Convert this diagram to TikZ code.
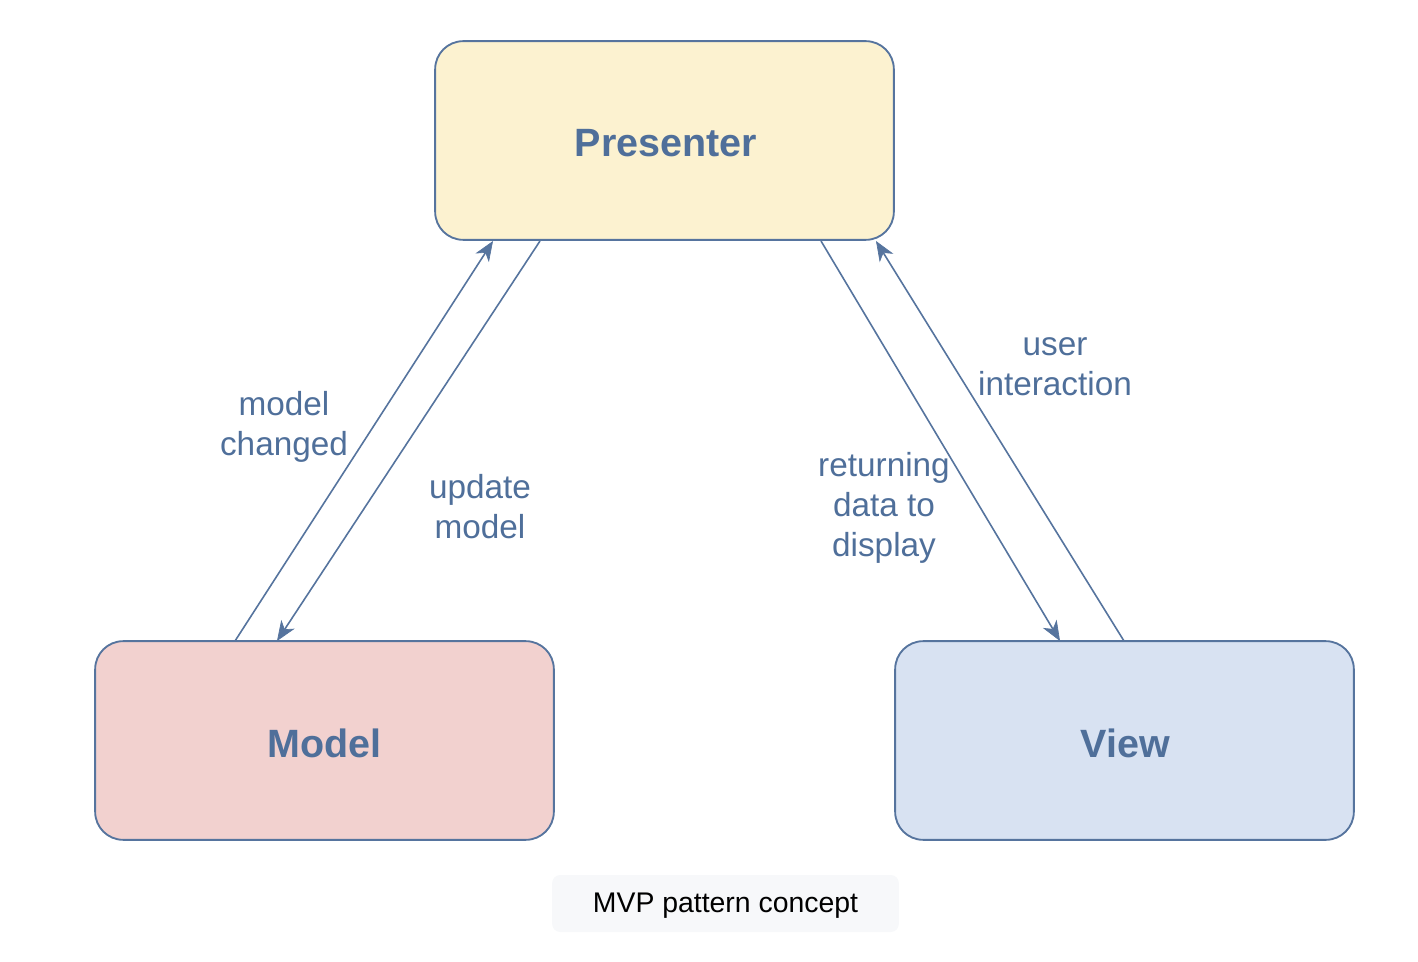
\documentclass[tikz,border=0pt]{standalone}
\usepackage{fontspec}
\setmainfont{Liberation Sans}
\usetikzlibrary{arrows.meta}
\definecolor{strk}{HTML}{56749E}
\definecolor{txt}{HTML}{4F6F9A}
\definecolor{pfill}{HTML}{FCF2D0}
\definecolor{mfill}{HTML}{F2D1CF}
\definecolor{vfill}{HTML}{D8E2F2}
\definecolor{cfill}{HTML}{F7F8FA}
\tikzset{
  box/.style={draw=strk, line width=1.4pt, rounded corners=21pt, minimum width=344pt, minimum height=149pt, text=txt, inner sep=0pt},
  boxtext/.style={text=txt, font=\fontsize{29.6}{34}\selectfont\bfseries, inner sep=0pt},
  conn/.style={color=strk, line width=1.2pt, -{Stealth[length=15pt,width=12pt,inset=4.5pt,fill=strk,line width=0.5pt]}},
  lbl/.style={text=txt, font=\fontsize{25}{30}\selectfont, align=center, inner sep=0pt},
}
\begin{document}
\begin{tikzpicture}[x=0.75pt,y=-0.75pt]
\useasboundingbox (0,0) rectangle (1418,962);
\node[box, fill=pfill] (P) at (664.5,140.5) {};
\node[box, fill=mfill] (M) at (324.5,740.5) {};
\node[box, fill=vfill] (V) at (1124.5,740.5) {};
\node[boxtext] (Pt) at (666,143) {Presenter};
\node[boxtext] (Mt) at (324.5,743) {Model};
\node[boxtext] (Vt) at (1125.5,743) {View};
\node[fill=cfill, rounded corners=6pt, minimum width=260pt, minimum height=42.75pt, inner sep=0pt] (C) at (725.5,903.5) {};
\node[font=\fontsize{21.3}{25}\selectfont, text=black, inner sep=0pt] (Ct) at (725.5,906) {MVP pattern concept};
% connector endpoints on box borders
\coordinate (m1) at (235,641);
\coordinate (p1) at (493,241);
\coordinate (p2) at (540,241);
\coordinate (m2) at (277,641);
\coordinate (p3) at (821,241);
\coordinate (v1) at (1060,641);
\coordinate (v2) at (1124,641);
\coordinate (p4) at (876,241);
\draw[conn] (m1) -- (p1);
\draw[conn] (p2) -- (m2);
\draw[conn] (p3) -- (v1);
\draw[conn] (v2) -- (p4);
\node[lbl] (l1) at (284,427) {model\\changed};
\node[lbl] (l2) at (480,507) {update\\model};
\node[lbl] (l3) at (884,508) {returning\\data to\\display};
\node[lbl] (l4) at (1055,367) {user\\interaction};
\end{tikzpicture}
\end{document}
